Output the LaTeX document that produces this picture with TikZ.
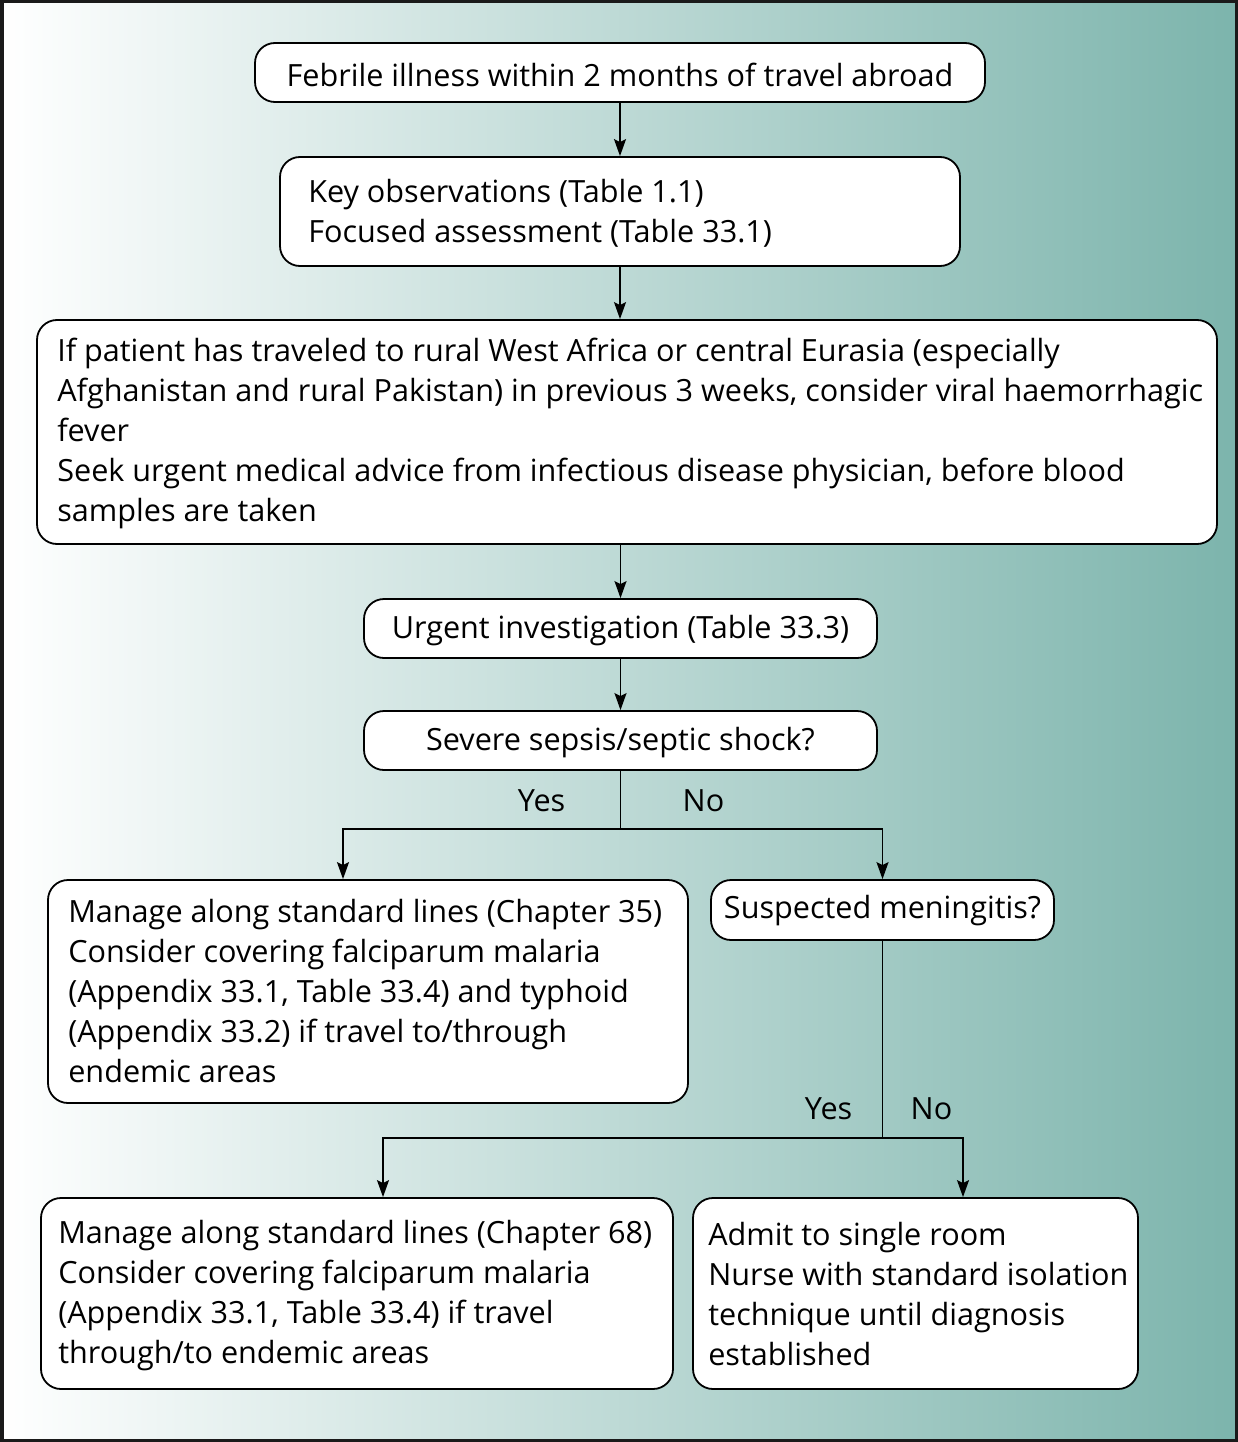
\documentclass[tikz,border=0pt]{standalone}
\usepackage{fontspec}
\setmainfont{Open Sans}
\usetikzlibrary{arrows.meta,calc}
\definecolor{teal1}{RGB}{124,180,172}
\definecolor{tealmid}{RGB}{194,216,212}
\definecolor{frame}{RGB}{26,26,26}
\tikzset{
  box/.style={draw=black, rounded corners=20pt, fill=white, line width=1.8pt, inner sep=0pt},
  txt/.style={inner sep=0pt, align=left, font=\fontsize{30.6}{40}\selectfont},
  ctxt/.style={inner sep=0pt, align=center, font=\fontsize{30.6}{40}\selectfont},
  lbl/.style={inner sep=0pt, font=\fontsize{30.6}{40}\selectfont},
  arr/.style={line width=1.8pt, -{Stealth[length=17pt,width=12pt,inset=3pt]}},
  ln/.style={line width=1.8pt}
}
\begin{document}
\begin{tikzpicture}[x=1pt,y=-1pt]
\useasboundingbox (0,0) rectangle (1238,1442);
\shade[left color=white, middle color=tealmid, right color=teal1] (0,0) rectangle (1238,1442);
\draw[frame, line width=3.5pt] (1.75,1.75) rectangle (1236.25,1440.25);

\node[box, minimum width=730pt, minimum height=59pt] (b1) at (620,72.5) {};
\node[ctxt] (t1) at ([yshift=-2pt]b1.center) {Febrile illness within 2 months of travel abroad};

\node[box, minimum width=680pt, minimum height=109pt] (b2) at (620,211.5) {};
\node[txt, anchor=west] (t2) at ([xshift=29pt,yshift=-2pt]b2.west) {Key observations (Table 1.1)\\Focused assessment (Table 33.1)};

\node[box, minimum width=1180pt, minimum height=224pt] (b3) at (627,432) {};
\node[txt, anchor=west] (t3) at ([xshift=21pt,yshift=-1pt]b3.west) {If patient has traveled to rural West Africa or central Eurasia (especially\\Afghanistan and rural Pakistan) in previous 3 weeks, consider viral haemorrhagic\\fever\\Seek urgent medical advice from infectious disease physician, before blood\\samples are taken};

\node[box, minimum width=513pt, minimum height=59pt] (b4) at (620.5,628.5) {};
\node[ctxt] (t4) at ([yshift=-2pt]b4.center) {Urgent investigation (Table 33.3)};

\node[box, minimum width=513pt, minimum height=59pt] (b5) at (620.5,740.5) {};
\node[ctxt] (t5) at ([yshift=-2pt]b5.center) {Severe sepsis/septic shock?};

\node[box, minimum width=640pt, minimum height=223pt] (b6) at (368,991.5) {};
\node[txt, anchor=west] (t6) at ([xshift=21pt]b6.west) {Manage along standard lines (Chapter 35)\\Consider covering falciparum malaria\\(Appendix 33.1, Table 33.4) and typhoid\\(Appendix 33.2) if travel to/through\\endemic areas};

\node[box, minimum width=343pt, minimum height=60pt] (b7) at (882.5,910) {};
\node[ctxt] (t7) at ([yshift=-1pt]b7.center) {Suspected meningitis?};

\node[box, minimum width=632pt, minimum height=191pt] (b8) at (357,1293.5) {};
\node[txt, anchor=west] (t8) at ([xshift=18pt,yshift=-2pt]b8.west) {Manage along standard lines (Chapter 68)\\Consider covering falciparum malaria\\(Appendix 33.1, Table 33.4) if travel\\through/to endemic areas};

\node[box, minimum width=445pt, minimum height=191pt] (b9) at (915.5,1293.5) {};
\node[txt, anchor=west] (t9) at ([xshift=16pt,yshift=-1pt]b9.west) {Admit to single room\\Nurse with standard isolation\\technique until diagnosis\\established};

\draw[arr] (b1.south) -- (b1.south |- b2.north);
\draw[arr] (b2.south) -- (b2.south |- b3.north);
\draw[arr] (b4.north |- b3.south) -- (b4.north);
\draw[arr] (b4.south) -- (b4.south |- b5.north);

\draw[ln] (b5.south) -- ++(0,58) coordinate (j1);
\draw[arr] (j1) -| ([xshift=-25pt]b6.north);
\draw[arr] (j1) -| (b7.north);
\node[lbl, anchor=east] (y1) at ([xshift=-55pt,yshift=28pt]j1) {Yes};
\node[lbl, anchor=west] (n1) at ([xshift=62pt,yshift=28pt]j1) {No};

\draw[ln] (b7.south) -- ++(0,197) coordinate (j2);
\draw[arr] (j2) -| ([xshift=26pt]b8.north);
\draw[arr] (j2) -| ([xshift=47.5pt]b9.north);
\node[lbl, anchor=east] (y2) at ([xshift=-30pt,yshift=29pt]j2) {Yes};
\node[lbl, anchor=west] (n2) at ([xshift=28pt,yshift=29pt]j2) {No};
\end{tikzpicture}
\end{document}
